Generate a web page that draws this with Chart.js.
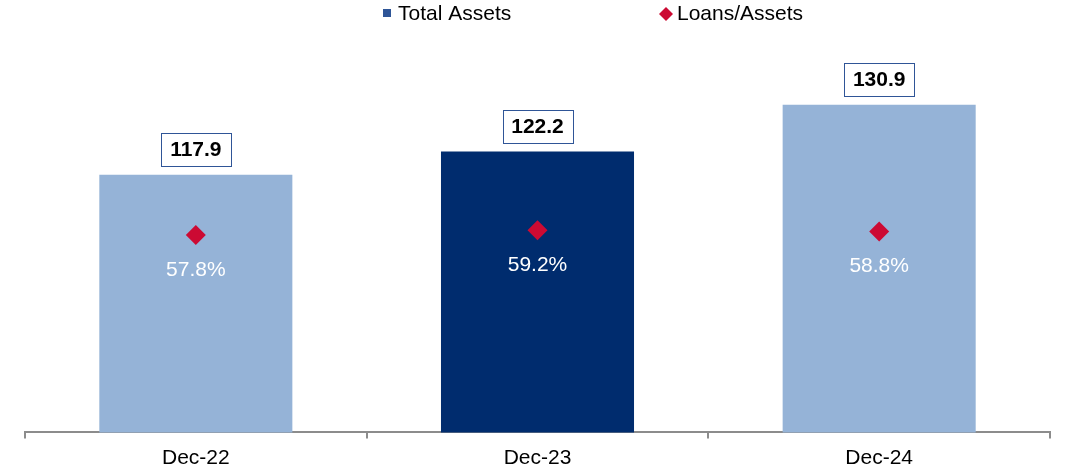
<!DOCTYPE html>
<html>
<head>
<meta charset="utf-8">
<script src="https://cdn.jsdelivr.net/npm/chart.js@4.4.1/dist/chart.umd.min.js"></script>
<style>
  html, body { margin: 0; padding: 0; background: #fff; }
  #wrap { width: 1066px; height: 471px; }
</style>
</head>
<body>
<div id="wrap"><canvas id="assetsChart"></canvas></div>
<script>
// Total assets (bars) and loans/assets ratio (diamonds)
var periods = ["Dec-22", "Dec-23", "Dec-24"];
var totalAssets = [117.9, 122.2, 130.9];
var loansToAssets = [57.8, 59.2, 58.8];

var FONT = "'Liberation Sans', Arial, sans-serif";

// value boxes over the bars, % labels under the diamonds
var labelPlugin = {
    id: "valueLabels",
    afterDatasetsDraw: function (chart) {
        var ctx = chart.ctx;
        var bars = chart.getDatasetMeta(0).data;
        var points = chart.getDatasetMeta(1).data;
        ctx.save();
        ctx.textAlign = "center";
        ctx.textBaseline = "middle";

        bars.forEach(function (bar, i) {
            var w = 70, h = 33;
            var cy = bar.y - 9 - h / 2;
            ctx.fillStyle = "#ffffff";
            ctx.fillRect(bar.x - w / 2, cy - h / 2, w, h);
            ctx.strokeStyle = "#2F5597";
            ctx.lineWidth = 1;
            ctx.strokeRect(Math.round(bar.x - w / 2) + 0.5, Math.round(cy - h / 2) + 0.5, w, h);
            ctx.fillStyle = "#000000";
            ctx.font = "bold 21px " + FONT;
            ctx.fillText(totalAssets[i].toFixed(1), bar.x, cy + 1);
        });

        points.forEach(function (pt, i) {
            ctx.fillStyle = "#ffffff";
            ctx.font = "21px " + FONT;
            ctx.fillText(loansToAssets[i].toFixed(1) + "%", pt.x, pt.y + 35);
        });
        ctx.restore();
    }
};

// legend row along the top
var legendPlugin = {
    id: "topLegend",
    afterDraw: function (chart) {
        var ctx = chart.ctx;
        var ds = chart.data.datasets;
        ctx.save();
        ctx.font = "21px " + FONT;
        ctx.textBaseline = "alphabetic";
        ctx.textAlign = "left";

        ctx.fillStyle = "#2E5597";
        ctx.fillRect(383, 9, 8, 8);
        ctx.fillStyle = "#000000";
        ctx.fillText(ds[0].label, 398, 20);

        ctx.fillStyle = ds[1].backgroundColor;
        ctx.beginPath();
        ctx.moveTo(666, 7);
        ctx.lineTo(673, 14);
        ctx.lineTo(666, 21);
        ctx.lineTo(659, 14);
        ctx.closePath();
        ctx.fill();
        ctx.fillStyle = "#000000";
        ctx.fillText(ds[1].label, 677, 20);
        ctx.restore();
    }
};

var ctx = document.getElementById("assetsChart").getContext("2d");
var assetsChart = new Chart(ctx, {
    data: {
        labels: periods,
        datasets: [{
            type: "bar",
            label: "Total Assets",
            data: totalAssets,
            yAxisID: "y",
            backgroundColor: ["#95B3D7", "#002C6E", "#95B3D7"],
            borderWidth: 0,
            barPercentage: 0.565,
            categoryPercentage: 1,
            order: 1
        }, {
            type: "line",
            label: "Loans/Assets",
            data: loansToAssets,
            yAxisID: "yRatio",
            showLine: false,
            pointStyle: "rectRot",
            pointRadius: 10,
            pointHoverRadius: 10,
            pointBorderWidth: 0,
            backgroundColor: "#CC0A33",
            borderColor: "#CC0A33",
            order: 0
        }]
    },
    options: {
        responsive: true,
        maintainAspectRatio: false,
        animation: false,
        layout: { autoPadding: false, padding: { left: 25, right: 16, top: 2, bottom: -7 } },
        plugins: {
            legend: { display: false },
            tooltip: { enabled: false }
        },
        scales: {
            x: {
                offset: true,
                grid: {
                    offset: true,
                    drawOnChartArea: false,
                    drawTicks: true,
                    tickLength: 6,
                    color: "#8C8C8C",
                    lineWidth: 2
                },
                border: { display: true, color: "#8C8C8C", width: 2 },
                ticks: {
                    color: "#000000",
                    padding: 3,
                    font: { family: FONT, size: 21, lineHeight: 1.6 }
                }
            },
            y: { display: false, min: 70, max: 150 },
            yRatio: { display: false, position: "right", min: 0, max: 126 }
        }
    },
    plugins: [labelPlugin, legendPlugin]
});
</script>
</body>
</html>
